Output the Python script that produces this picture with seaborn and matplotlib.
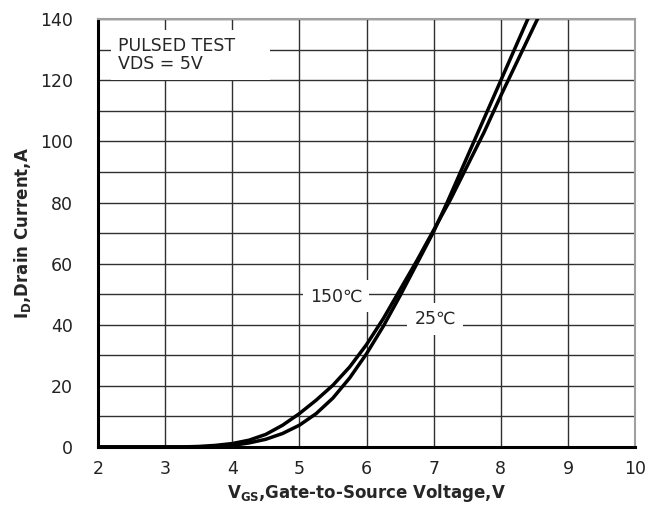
import numpy as np
import pandas as pd
import matplotlib
matplotlib.use("Agg")
import matplotlib.pyplot as plt
import seaborn as sns
from matplotlib.ticker import MultipleLocator

# ---- data ----
v_25 = [2.0, 3.0, 3.5, 3.75, 4.0, 4.25, 4.5, 4.75, 5.0, 5.25, 5.5, 5.75, 6.0, 6.25,
        6.5, 6.75, 7.0, 7.2, 7.4, 7.6, 7.8, 8.0, 8.2, 8.4, 8.45]
i_25 = [0, 0, 0, 0.15, 0.5, 1.3, 2.5, 4.4, 7.1, 10.9, 16.0, 22.6, 30.5, 39.5,
        49.5, 60, 70.5, 80, 90, 100, 110, 120, 130, 140, 142.5]

v_150 = [2.0, 3.0, 3.25, 3.5, 3.75, 4.0, 4.25, 4.5, 4.75, 5.0, 5.25, 5.5, 5.75, 6.0,
         6.25, 6.5, 6.75, 7.0, 7.25, 7.5, 7.75, 8.0, 8.25, 8.5, 8.6]
i_150 = [0, 0, 0, 0.15, 0.5, 1.1, 2.2, 4.1, 7.1, 10.9, 15.3, 20.2, 26.2, 33.5,
         42, 51.5, 61, 71, 81, 92, 103, 115, 126.5, 138, 142.5]

series_names = ["25℃", "150℃"]
x_ticks = [2, 3, 4, 5, 6, 7, 8, 9, 10]
y_ticks = [0, 20, 40, 60, 80, 100, 120, 140]

df = pd.concat([
    pd.DataFrame({"V": v_25, "I": i_25, "T": series_names[0]}),
    pd.DataFrame({"V": v_150, "I": i_150, "T": series_names[1]}),
])

sns.set_theme(style="white")
plt.rcParams["font.family"] = ["DejaVu Sans"]
plt.rcParams["mathtext.fontset"] = "dejavusans"

fig = plt.figure(figsize=(6.61, 5.05), dpi=100)
ax = fig.add_axes([0.148, 0.115, 0.813, 0.847])

sns.lineplot(data=df, x="V", y="I", hue="T", palette=["black", "black"],
             linewidth=2.5, legend=False, ax=ax, sort=False, zorder=5,
             solid_joinstyle="round", solid_capstyle="round")

ax.set_xlim(2, 10)
ax.set_ylim(0, 140)
ax.set_xticks(x_ticks)
ax.set_yticks(y_ticks)
ax.yaxis.set_minor_locator(MultipleLocator(10))
ax.grid(True, which="both", color="#303030", linewidth=1.0, zorder=1)
ax.set_axisbelow(True)
ax.tick_params(axis="both", which="both", length=0, labelsize=12.5, colors="#222222")
ax.tick_params(axis="y", pad=18)
ax.tick_params(axis="x", pad=9.5)

for s in ["left", "bottom"]:
    ax.spines[s].set_color("black")
    ax.spines[s].set_linewidth(2.2)
for s in ["top", "right"]:
    ax.spines[s].set_color("#a0a0a0")
    ax.spines[s].set_linewidth(1.5)

ax.set_xlabel("V$_{\\mathregular{GS}}$,Gate-to-Source Voltage,V", fontsize=12,
              fontweight="bold", labelpad=3)
ax.set_ylabel("I$_{\\mathregular{D}}$,Drain Current,A", fontsize=12,
              fontweight="bold", labelpad=5)

ax.text(2.3, 122.5, "PULSED TEST     \nVDS = 5V", fontsize=12.5, ha="left", va="bottom",
        linespacing=0.95, bbox=dict(facecolor="white", edgecolor="none",
                                    boxstyle="square,pad=0.4"), zorder=3)
ax.text(5.55, 49.3, series_names[1], fontsize=12.5, ha="center", va="center",
        bbox=dict(facecolor="white", edgecolor="none", boxstyle="square,pad=0.4"),
        zorder=3)
ax.text(7.02, 41.8, series_names[0], fontsize=12.5, ha="center", va="center",
        bbox=dict(facecolor="white", edgecolor="none", boxstyle="square,pad=0.4"),
        zorder=3)

fig.savefig("out.png", dpi=100)
